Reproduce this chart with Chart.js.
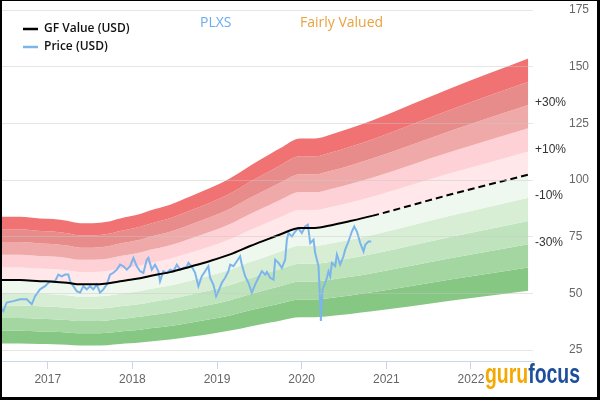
<!DOCTYPE html>
<html>
<head>
<meta charset="utf-8">
<script src="https://cdn.jsdelivr.net/npm/chart.js@4"></script>
<style>
html,body{margin:0;padding:0;background:#fff;}
canvas{display:block;}
</style>
</head>
<body>
<canvas id="c" width="600" height="400"></canvas>
<script>
// ---- data ----
const yearTicks = [2017, 2018, 2019, 2020, 2021, 2022];
const valueTicks = [25, 50, 75, 100, 125, 150, 175];

const gfYears = [2016.436, 2016.673, 2016.909, 2017.063, 2017.228, 2017.382, 2017.535, 2017.701, 2017.855, 2017.973, 2018.091, 2018.209, 2018.445, 2018.682, 2018.918, 2019.155, 2019.391, 2019.627, 2019.745, 2019.982, 2020.159, 2020.337, 2020.573, 2020.833, 2021.755, 2022.677];
const gfValues = [55.9, 55.9, 55.4, 55.2, 54.7, 54.0, 54.0, 54.4, 55.4, 56.0, 56.7, 57.7, 59.4, 61.8, 64.3, 67.2, 70.9, 74.3, 76.0, 78.9, 78.9, 80.0, 81.9, 84.2, 93.6, 102.4];
const gfEstimateStart = 2020.833;

const priceYears = [2016.436, 2016.475, 2016.515, 2016.593, 2016.673, 2016.752, 2016.811, 2016.850, 2016.909, 2016.968, 2017.027, 2017.086, 2017.125, 2017.165, 2017.204, 2017.243, 2017.264, 2017.303, 2017.343, 2017.382, 2017.421, 2017.461, 2017.500, 2017.539, 2017.579, 2017.618, 2017.657, 2017.697, 2017.736, 2017.775, 2017.816, 2017.855, 2017.894, 2017.934, 2017.973, 2018.012, 2018.052, 2018.091, 2018.130, 2018.170, 2018.189, 2018.229, 2018.268, 2018.307, 2018.327, 2018.366, 2018.407, 2018.446, 2018.485, 2018.525, 2018.564, 2018.603, 2018.643, 2018.662, 2018.702, 2018.741, 2018.780, 2018.820, 2018.859, 2018.898, 2018.918, 2018.957, 2018.989, 2019.017, 2019.057, 2019.096, 2019.135, 2019.155, 2019.194, 2019.234, 2019.273, 2019.293, 2019.332, 2019.371, 2019.411, 2019.450, 2019.489, 2019.530, 2019.569, 2019.589, 2019.628, 2019.667, 2019.687, 2019.726, 2019.766, 2019.805, 2019.825, 2019.844, 2019.884, 2019.923, 2019.962, 2020.002, 2020.041, 2020.073, 2020.101, 2020.140, 2020.160, 2020.199, 2020.210, 2020.227, 2020.246, 2020.278, 2020.298, 2020.317, 2020.337, 2020.357, 2020.396, 2020.416, 2020.455, 2020.494, 2020.514, 2020.553, 2020.593, 2020.621, 2020.653, 2020.692, 2020.731, 2020.751, 2020.790, 2020.822];
const priceValues = [43.9, 42.2, 46.0, 46.6, 47.4, 47.4, 45.2, 48.8, 51.8, 53.2, 55.4, 55.4, 58.3, 57.5, 58.3, 58.3, 55.4, 53.2, 51.0, 50.3, 53.2, 51.8, 53.2, 51.8, 53.9, 50.3, 51.8, 53.9, 58.3, 59.1, 60.5, 62.7, 62.0, 60.5, 62.0, 65.7, 62.0, 59.8, 59.0, 64.9, 65.7, 60.5, 62.7, 59.8, 55.4, 59.8, 59.0, 60.5, 59.8, 62.7, 60.5, 61.3, 61.8, 63.5, 61.8, 59.1, 53.2, 57.6, 59.8, 62.0, 56.9, 53.9, 48.8, 51.0, 54.7, 56.9, 59.8, 62.7, 62.0, 64.2, 66.4, 62.7, 57.6, 54.7, 50.3, 53.9, 56.9, 59.8, 58.3, 59.5, 56.9, 56.1, 64.9, 63.5, 61.3, 64.9, 73.7, 76.6, 75.1, 77.3, 78.8, 76.6, 79.5, 80.3, 72.2, 73.7, 67.8, 62.0, 53.2, 37.9, 51.8, 54.7, 56.9, 59.8, 57.6, 63.5, 62.0, 67.1, 62.7, 66.4, 69.3, 72.9, 77.3, 79.5, 77.3, 72.2, 68.5, 71.5, 72.9, 72.9];

const bandMultipliers = [1.5, 1.4, 1.3, 1.2, 1.1, 1.0, 0.9, 0.8, 0.7, 0.6, 0.5];
const bandColors = ['#f07272', '#e88b8b', '#f0a9a9', '#fdd1d5', '#ffe7ea', '#eef8ee', '#d7eed5', '#bfe3bc', '#a3d6a0', '#86c783'];
const bandLabelTexts = ['+30%', '+10%', '-10%', '-30%'];
const bandLabelMultipliers = [1.3, 1.1, 0.9, 0.7];

// ---- datasets ----
const toPts = (xs, ys) => xs.map((x, i) => ({x: x, y: ys[i]}));
const datasets = [];
datasets.push({
  label: 'GF Value (USD)', data: toPts(gfYears, gfValues), borderColor: '#000', borderWidth: 2,
  pointRadius: 0, fill: false, order: 0, cubicInterpolationMode: 'monotone',
  segment: { borderDash: ctx => ctx.p0.parsed.x >= gfEstimateStart - 1e-6 ? [7, 4] : undefined }
});
datasets.push({
  label: 'Price (USD)', data: toPts(priceYears, priceValues), borderColor: '#7cb5ec', borderWidth: 2,
  pointRadius: 0, fill: false, order: 1, tension: 0
});
const bandStart = datasets.length;
bandMultipliers.forEach((m, i) => {
  datasets.push({
    label: 'band' + m, data: toPts(gfYears, gfValues.map(v => v * m)),
    borderWidth: 0, borderColor: 'rgba(0,0,0,0)', pointRadius: 0, order: 10,
    cubicInterpolationMode: 'monotone',
    fill: i === 0 ? false : {target: bandStart + i - 1},
    backgroundColor: i === 0 ? 'rgba(0,0,0,0)' : bandColors[i - 1]
  });
});

const overlay = {
  id: 'overlay',
  afterDraw(chart) {
    const ctx = chart.ctx, ys = chart.scales.y, area = chart.chartArea;
    ctx.save();
    // band labels
    const lastGF = gfValues[gfValues.length - 1];
    ctx.font = '12px "Liberation Sans", Arial, sans-serif';
    ctx.fillStyle = '#333';
    ctx.textAlign = 'left'; ctx.textBaseline = 'middle';
    bandLabelTexts.forEach((t, i) => {
      ctx.fillText(t, area.right + 2, ys.getPixelForValue(lastGF * bandLabelMultipliers[i]) - 2);
    });
    // titles
    ctx.font = '14px "Open Sans", sans-serif';
    ctx.fillStyle = '#6aabef';
    ctx.fillText('PLXS', 200, 23);
    ctx.fillStyle = '#e8a33d';
    ctx.fillText('Fairly Valued', 300, 23);
    // legend
    ctx.lineWidth = 2.5;
    ctx.strokeStyle = '#000';
    ctx.beginPath(); ctx.moveTo(23, 29); ctx.lineTo(38, 29); ctx.stroke();
    ctx.strokeStyle = '#7cb5ec';
    ctx.beginPath(); ctx.moveTo(23, 47); ctx.lineTo(38, 47); ctx.stroke();
    ctx.fillStyle = '#111';
    ctx.font = '600 12px "Open Sans", sans-serif';
    ctx.fillText('GF Value (USD)', 44, 29);
    ctx.fillText('Price (USD)', 44, 47);
    // logo
    ctx.font = 'bold 28px "Liberation Sans Narrow", "Liberation Sans", sans-serif';
    ctx.textBaseline = 'alphabetic';
    const w1 = ctx.measureText('guru').width, w2 = ctx.measureText('focus').width;
    const sx = 95 / (w1 + w2);
    ctx.save();
    ctx.translate(485, 383);
    ctx.scale(sx, 1);
    ctx.fillStyle = '#f5a800';
    ctx.fillText('guru', 0, 0);
    ctx.fillStyle = '#1d4f9a';
    ctx.fillText('focus', w1, 0);
    ctx.restore();
    // frame
    ctx.fillStyle = '#000';
    ctx.fillRect(0, 0, 2, 400);
    ctx.fillRect(0, 0, 600, 1);
    ctx.fillRect(597, 0, 3, 400);
    ctx.fillRect(0, 397, 600, 3);
    ctx.restore();
  }
};

new Chart(document.getElementById('c'), {
  type: 'line',
  data: { datasets: datasets },
  plugins: [overlay],
  options: {
    responsive: false, animation: false, devicePixelRatio: 1,
    layout: { autoPadding: false, padding: { left: 0, right: 4, top: 10, bottom: 0 } },
    plugins: { legend: { display: false }, tooltip: { enabled: false } },
    scales: {
      x: {
        type: 'linear', min: 2016.436, max: 2022.733,
        afterBuildTicks: s => { s.ticks = yearTicks.map(v => ({value: v})); },
        afterFit: s => { s.height = 39; s.paddingLeft = 0; s.paddingRight = 0; },
        ticks: { callback: v => String(v), color: '#666', font: { size: 12, family: '"Liberation Sans", Arial, sans-serif' }, padding: 3, maxRotation: 0, autoSkip: false },
        grid: { drawOnChartArea: false, drawTicks: true, tickLength: 8, color: '#ccd6eb' },
        border: { color: '#ccd6eb', width: 1 }
      },
      y: {
        type: 'linear', position: 'right', min: 20.2, max: 175,
        afterBuildTicks: s => { s.ticks = valueTicks.map(v => ({value: v})); },
        afterFit: s => { s.width = 63; s.paddingTop = 0; s.paddingBottom = 0; },
        ticks: { color: '#666', font: { size: 12, family: '"Liberation Sans", Arial, sans-serif' }, padding: 0 },
        grid: { drawTicks: true, tickLength: 36, tickColor: 'rgba(0,0,0,0)', color: 'rgba(200,200,200,0.45)', z: 1 },
        border: { display: false }
      }
    }
  }
});
</script>
</body>
</html>
